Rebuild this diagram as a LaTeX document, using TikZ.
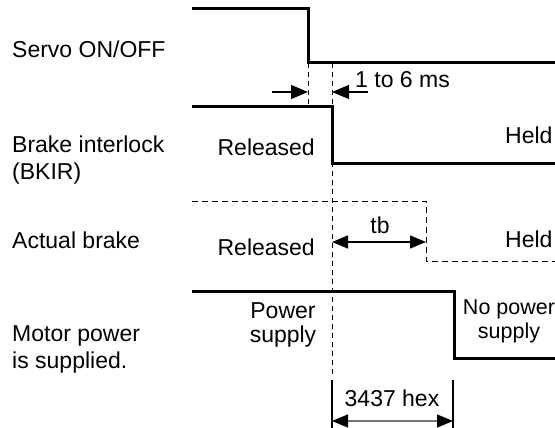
\documentclass[tikz,border=0pt]{standalone}
\usepackage{fontspec}
\setmainfont{Liberation Sans}
\usetikzlibrary{arrows.meta}
\tikzset{
  sig/.style={line width=3pt, line join=miter},
  dsig/.style={line width=1pt, dash pattern=on 6pt off 4pt},
  guide/.style={line width=1pt, dash pattern=on 5pt off 4pt},
  tip/.style={line width=1.1pt, -{Triangle[length=17pt,width=14pt]}},
  dim/.style={line width=1.3pt, {Triangle[length=16pt,width=13pt]}-{Triangle[length=16pt,width=13pt]}},
  bar/.style={line width=1.1pt},
  lbl/.style={font=\fontsize{23}{27.5}\selectfont, inner sep=0pt, align=left},
  txt/.style={font=\fontsize{23}{24}\selectfont, inner sep=0pt, align=center}
}

\begin{document}
\begin{tikzpicture}[x=1pt, y=-1pt]
\useasboundingbox (0,0) rectangle (555,428);
% edges of the four signals
\coordinate (son) at (192,9);   \coordinate (soff) at (308,63);
\coordinate (bon) at (192,107); \coordinate (boff) at (332,163);
\coordinate (aon) at (192,201); \coordinate (aoff) at (426,261);
\coordinate (pon) at (192,291); \coordinate (poff) at (454,358);
\draw[sig] (son) -| (soff) -- (555,63);
\draw[sig] (bon) -| (boff) -- (555,163);
\draw[dsig] (aon) -| (aoff) -- (555,261);
\draw[sig] (pon) -| (poff) -- (555,358);
% guide lines
\draw[guide] (soff) -- (308,104);
\draw[guide] (332,63) -- (332,375);
% timing marks
\coordinate (m1) at (272,92); \coordinate (m2) at (308,92);
\coordinate (m3) at (332,92); \coordinate (m4) at (368,92);
\draw[tip] (m1) -- (m2);
\draw[tip] (m4) -- (m3);
\coordinate (tb1) at (332,242); \coordinate (tb2) at (426,242);
\draw[dim] (tb1) -- (tb2);
\coordinate (h1) at (332,380); \coordinate (h2) at (453,380);
\draw[bar] (h1) -- (332,428);
\draw[bar] (h2) -- (453,428);
\draw[dim, draw=black!55, arrows={Triangle[length=16pt,width=13pt,black]-Triangle[length=16pt,width=13pt,black]}] (332,421) -- (453,421);
% signal names
\node[lbl, anchor=base west] (servo) at (12,58) {Servo ON/OFF};
\node[lbl, anchor=base west] (bkir) at (12,179.5) {Brake interlock\\(BKIR)};
\node[lbl, anchor=base west] (brake) at (12,248) {Actual brake};
\node[lbl, anchor=base west] (motor) at (12,368.5) {Motor power\\is supplied.};
% states
\node[txt, anchor=base east] (rel1) at (315,155.5) {Released};
\node[txt, anchor=base west] (held1) at (505,143.5) {Held};
\node[txt, anchor=base east] (rel2) at (315,255) {Released};
\node[txt, anchor=base west] (held2) at (505,247) {Held};
\node[txt, anchor=base west] (ms) at (355,88) {1 to 6 ms};
\node[txt, anchor=base] (tb) at (380,233) {tb};
\node[txt, anchor=base] (pwr) at (283,342) {Power\\supply};
\node[txt, anchor=base, font=\fontsize{21.5}{24}\selectfont] (npwr) at (509,338) {No power\\supply};
\node[txt, anchor=base] (hex) at (392,406) {3437 hex};
\end{tikzpicture}
\end{document}
